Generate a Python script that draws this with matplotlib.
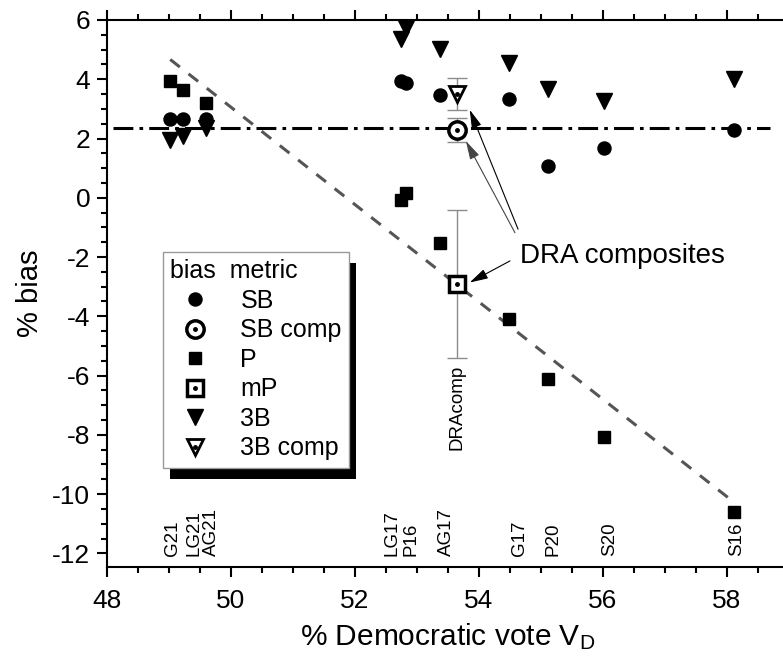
"""Partisan bias of election results against Democratic vote share."""

import matplotlib

matplotlib.use("Agg")
import matplotlib.pyplot as plt
from matplotlib.patches import Rectangle
from matplotlib.ticker import MultipleLocator
import numpy as np

plt.rcParams["font.family"] = ["Liberation Sans", "DejaVu Sans"]
plt.rcParams["axes.unicode_minus"] = False
plt.rcParams["mathtext.default"] = "regular"

# one entry per election
elections = ["G21", "LG21", "AG21", "LG17", "P16", "AG17", "G17", "P20", "S20", "S16"]
vote_d = [49.02, 49.23, 49.59, 52.74, 52.82, 53.37, 54.48, 55.12, 56.02, 58.11]
bias_sb = [2.67, 2.67, 2.67, 3.95, 3.87, 3.48, 3.34, 1.06, 1.68, 2.30]
bias_p = [3.95, 3.65, 3.20, -0.06, 0.17, -1.54, -4.10, -6.12, -8.08, -10.62]
bias_3b = [1.96, 2.07, 2.35, 5.35, 5.72, 5.02, 4.55, 3.67, 3.25, 4.00]
# where the rotated election names sit (spread so they don't overlap)
label_x = [49.06, 49.40, 49.69, 52.59, 52.90, 53.47, 54.66, 55.20, 56.10, 58.16]
label_y = -12.08

# DRA composites
dra_vote = 53.64
sb_comp, sb_comp_err = 2.28, 0.40
p_comp, p_comp_err = -2.92, 2.50
b3_comp, b3_comp_err = 3.50, 0.55
sb_reference = 2.35
reference_span = (48.1, 58.7)

fig = plt.figure(figsize=(7.83, 6.66), dpi=100)
ax = fig.add_axes([107 / 783, 99.3 / 666, 682 / 783, 546.7 / 666])

# reference level and fit through the P points
ax.plot(reference_span, [sb_reference, sb_reference], color="black", lw=2.2,
        ls=(0, (6.5, 2, 1.2, 2)), zorder=1)
coef = np.polyfit(vote_d, bias_p, 1)
fit_x = np.array([min(vote_d), max(vote_d)])
ax.plot(fit_x, np.polyval(coef, fit_x), color="#555555", lw=2.2,
        ls=(0, (4, 3.6)), zorder=1)

sb_line, = ax.plot(vote_d, bias_sb, "o", color="black", ms=9.4, ls="none", zorder=3)
p_line, = ax.plot(vote_d, bias_p, "s", color="black", ms=8.6, ls="none", zorder=3)
b3_line, = ax.plot(vote_d, bias_3b, "v", color="black", ms=11, ls="none", zorder=3)

err_style = dict(fmt="none", ecolor="#8c8c8c", elinewidth=1, capsize=7, capthick=1, zorder=2)
ax.errorbar(dra_vote, sb_comp, yerr=sb_comp_err, **err_style)
ax.errorbar(dra_vote, p_comp, yerr=p_comp_err, **err_style)
ax.errorbar(dra_vote, b3_comp, yerr=b3_comp_err, **err_style)

open_style = dict(mfc="white", mec="black", ls="none", zorder=4)
sb_comp_line, = ax.plot(dra_vote, sb_comp, "o", ms=12.5, mew=2.5, **open_style)
p_comp_line, = ax.plot(dra_vote, p_comp, "s", ms=11, mew=2.5, **open_style)
b3_comp_line, = ax.plot(dra_vote, b3_comp, "v", ms=12, mew=2, **open_style)
dots = []
for value in [sb_comp, p_comp, b3_comp]:
    dot, = ax.plot(dra_vote, value, "o", color="black", ms=2.5, ls="none", zorder=5)
    dots.append(dot)

for name, x in zip(elections, label_x):
    ax.text(x, label_y, name, rotation=90, ha="center", va="bottom", fontsize=13.5)
ax.text(dra_vote, -5.65, "DRAcomp", rotation=90, ha="center", va="top", fontsize=13.5)

ax.text(54.66, -1.98, "DRA composites", fontsize=20, ha="left", va="center")
arrow = dict(arrowstyle="-|>,head_length=0.8,head_width=0.22", color="black",
             lw=0.8, mutation_scale=14, shrinkA=0, shrinkB=0)
ax.annotate("", xy=(53.85, 2.97), xytext=(54.63, -1.06), arrowprops=arrow)
ax.annotate("", xy=(53.79, 1.91), xytext=(54.58, -1.18),
            arrowprops={**arrow, "color": "#444444"})
ax.annotate("", xy=(53.85, -2.86), xytext=(54.50, -2.13), arrowprops=arrow)

ax.set_xlim(48, 59)
ax.set_ylim(-12.45, 6)
ax.xaxis.set_major_locator(MultipleLocator(2))
ax.xaxis.set_minor_locator(MultipleLocator(0.5))
ax.yaxis.set_major_locator(MultipleLocator(2))
ax.yaxis.set_minor_locator(MultipleLocator(0.5))
ax.tick_params(which="both", direction="out", top=True, right=False, width=1.5,
               labelsize=19)
ax.tick_params(axis="x", pad=9)
ax.tick_params(axis="y", pad=5)
ax.tick_params(which="major", length=7)
ax.tick_params(which="minor", length=4)
for spine in ax.spines.values():
    spine.set_linewidth(1.5)

ax.set_ylabel("% bias", fontsize=21, labelpad=6)
ax.set_xlabel("% Democratic vote V$_{D}$", fontsize=21.5, labelpad=6)

handles = [sb_line, (sb_comp_line, dots[0]), p_line, (p_comp_line, dots[1]),
           b3_line, (b3_comp_line, dots[2])]
labels = ["SB", "SB comp", "P", "mP", "3B", "3B comp"]
leg = ax.legend(handles, labels, loc="upper left", bbox_to_anchor=(0.082, 0.576),
                borderaxespad=0, title="bias  metric", alignment="left",
                fontsize=18, title_fontsize=18, fancybox=False, framealpha=1,
                edgecolor="#999999", borderpad=0.3, handlelength=2.0,
                handletextpad=0.8, labelspacing=0.22)
leg.get_frame().set_linewidth(1)
leg.set_zorder(6)

# offset black shadow behind the legend box
fig.canvas.draw()
box = leg.get_window_extent().transformed(ax.transAxes.inverted())
dx, dy = 7 / 682, -11 / 546.7
ax.add_patch(Rectangle((box.x0 + dx, box.y0 + dy), box.width, box.height,
                       transform=ax.transAxes, facecolor="black", edgecolor="none",
                       zorder=5.9, clip_on=False))

fig.savefig("out.png", dpi=100)
